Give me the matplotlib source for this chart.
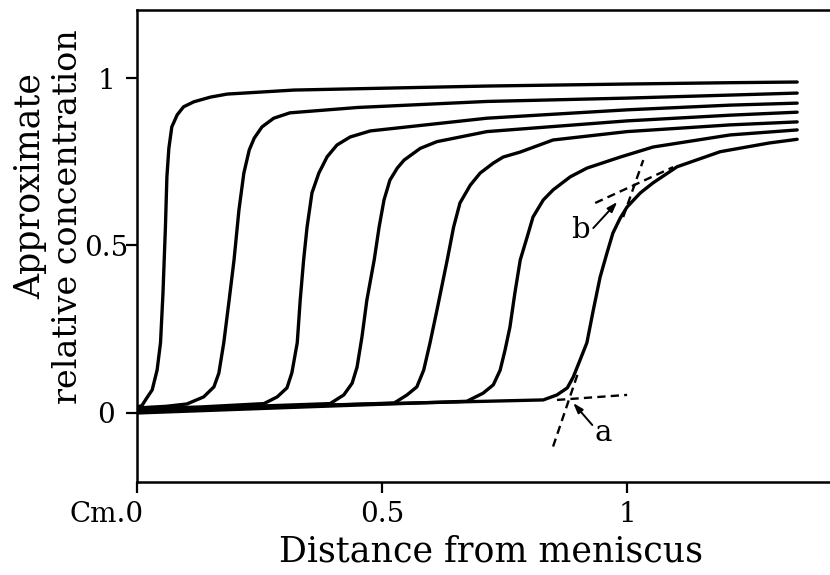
import matplotlib
matplotlib.use("Agg")
import matplotlib.pyplot as plt
import matplotlib.transforms as mtransforms

curve1_x = [0, 0.01, 0.02, 0.031, 0.041, 0.048, 0.053, 0.058, 0.061, 0.065, 0.071, 0.082, 0.095, 0.116,
            0.15, 0.184, 0.32, 0.714, 1.0, 1.21, 1.347]
curve1_y = [0.018, 0.022, 0.045, 0.069, 0.128, 0.21, 0.358, 0.555, 0.705, 0.79, 0.854, 0.89, 0.914, 0.929,
            0.943, 0.952, 0.964, 0.976, 0.982, 0.986, 0.988]

curve2_x = [0, 0.06, 0.102, 0.136, 0.157, 0.167, 0.177, 0.188, 0.198, 0.208, 0.218, 0.229, 0.239, 0.255,
            0.279, 0.312, 0.45, 0.714, 1.0, 1.21, 1.347]
curve2_y = [0.015, 0.02, 0.027, 0.048, 0.078, 0.119, 0.209, 0.337, 0.457, 0.606, 0.716, 0.785, 0.82, 0.854,
            0.88, 0.896, 0.912, 0.93, 0.94, 0.949, 0.955]

curve3_x = [0, 0.13, 0.259, 0.286, 0.306, 0.316, 0.327, 0.333, 0.34, 0.347, 0.357, 0.371, 0.388, 0.408,
            0.435, 0.476, 0.714, 1.0, 1.21, 1.347]
curve3_y = [0.012, 0.018, 0.028, 0.048, 0.075, 0.12, 0.21, 0.337, 0.457, 0.555, 0.657, 0.716, 0.765, 0.8,
            0.824, 0.842, 0.88, 0.905, 0.919, 0.925]

curve4_x = [0, 0.2, 0.394, 0.422, 0.439, 0.449, 0.459, 0.469, 0.484, 0.494, 0.504, 0.516, 0.531, 0.545,
            0.578, 0.612, 0.714, 1.0, 1.21, 1.347]
curve4_y = [0.008, 0.018, 0.028, 0.054, 0.089, 0.137, 0.227, 0.337, 0.457, 0.555, 0.636, 0.695, 0.731, 0.755,
            0.79, 0.81, 0.84, 0.872, 0.889, 0.898]

curve5_x = [0, 0.26, 0.525, 0.551, 0.571, 0.585, 0.598, 0.612, 0.633, 0.646, 0.659, 0.68, 0.70, 0.727,
            0.747, 0.782, 0.849, 1.0, 1.21, 1.347]
curve5_y = [0.004, 0.016, 0.03, 0.054, 0.078, 0.128, 0.21, 0.307, 0.457, 0.555, 0.627, 0.68, 0.716, 0.746,
            0.764, 0.779, 0.815, 0.84, 0.86, 0.869]

curve6_x = [0, 0.34, 0.673, 0.706, 0.727, 0.741, 0.751, 0.761, 0.771, 0.782, 0.796, 0.808, 0.829, 0.849,
            0.884, 0.918, 0.986, 1.053, 1.21, 1.347]
curve6_y = [0.0, 0.018, 0.035, 0.059, 0.084, 0.128, 0.188, 0.257, 0.358, 0.457, 0.525, 0.585, 0.636, 0.666,
            0.705, 0.731, 0.764, 0.794, 0.83, 0.845]

curve7_x = [0, 0.42, 0.829, 0.857, 0.878, 0.89, 0.904, 0.918, 0.931, 0.945, 0.959, 0.971, 0.986, 1.0,
            1.027, 1.053, 1.102, 1.19, 1.29, 1.347]
curve7_y = [0.01, 0.025, 0.039, 0.054, 0.075, 0.107, 0.158, 0.21, 0.307, 0.406, 0.478, 0.537, 0.582, 0.615,
            0.657, 0.687, 0.735, 0.78, 0.806, 0.817]

# construction lines for points a and b
a_flat_x = [0.857, 1.0]
a_flat_y = [0.039, 0.054]
a_steep_x = [0.849, 0.90]
a_steep_y = [-0.10, 0.12]
b_steep_x = [0.992, 1.033]
b_steep_y = [0.585, 0.755]
b_flat_x = [0.935, 1.094]
b_flat_y = [0.627, 0.734]

xticks = [0, 0.5, 1]
xtick_labels = ["Cm.0", "0.5", "1"]
yticks = [0, 0.5, 1]
ytick_labels = ["0", "0.5", "1"]

FONT = "DejaVu Serif"

fig = plt.figure(figsize=(8.3, 5.75), dpi=100)
ax = fig.add_axes([137 / 830, 93 / 575, 693 / 830, 472 / 575])

curves = [(curve1_x, curve1_y), (curve2_x, curve2_y), (curve3_x, curve3_y),
          (curve4_x, curve4_y), (curve5_x, curve5_y), (curve6_x, curve6_y),
          (curve7_x, curve7_y)]
for cx, cy in curves:
    ax.plot(cx, cy, color="black", lw=2.4, solid_capstyle="round", solid_joinstyle="round")

dash = (0, (3.5, 2.2))
for dx, dy in [(a_flat_x, a_flat_y), (a_steep_x, a_steep_y), (b_steep_x, b_steep_y), (b_flat_x, b_flat_y)]:
    ax.plot(dx, dy, color="black", lw=1.7, linestyle=dash)

arrow = dict(arrowstyle="-|>,head_length=0.6,head_width=0.2", color="black", lw=1.4, shrinkA=0, shrinkB=0)
ax.annotate("", xy=(0.89, 0.03), xytext=(0.929, -0.036), arrowprops=arrow)
ax.annotate("", xy=(0.98, 0.63), xytext=(0.931, 0.552), arrowprops=arrow)
ax.text(0.951, -0.06, "a", fontsize=21, family=FONT, ha="center", va="center")
ax.text(0.904, 0.546, "b", fontsize=21, family=FONT, ha="center", va="center")

ax.set_xlim(0, 1.414)
ax.set_ylim(-0.206, 1.203)
ax.spines["right"].set_visible(False)
for s in ["left", "top", "bottom"]:
    ax.spines[s].set_linewidth(1.8)

ax.set_xticks(xticks)
ax.set_xticklabels(xtick_labels, fontsize=20, family=FONT)
ax.set_yticks(yticks)
ax.set_yticklabels(ytick_labels, fontsize=20, family=FONT)
ax.tick_params(direction="out", length=8, width=1.6, pad=6)
ax.tick_params(axis="y", pad=14)
for lab in ax.get_yticklabels():
    lab.set_horizontalalignment("center")
first = ax.get_xticklabels()[0]
first.set_horizontalalignment("right")
first.set_transform(first.get_transform() + mtransforms.ScaledTranslation(7 / 100, 0, fig.dpi_scale_trans))

fig.text(491 / 830, 1 - 552 / 575, "Distance from meniscus", fontsize=25, family=FONT,
         ha="center", va="center")
fig.text(30 / 830, 1 - 186 / 575, "Approximate", fontsize=25, family=FONT,
         ha="center", va="center", rotation=90)
fig.text(68 / 830, 1 - 217 / 575, "relative concentration", fontsize=24, family=FONT,
         ha="center", va="center", rotation=90)

fig.savefig("out.png", dpi=100)
